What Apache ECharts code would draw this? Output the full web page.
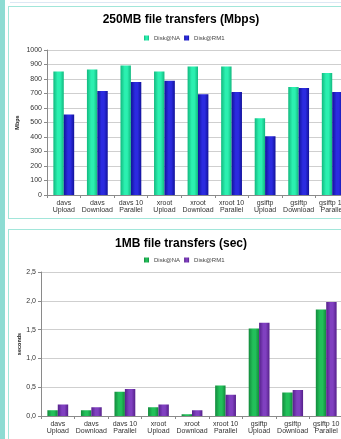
<!DOCTYPE html>
<html>
<head>
<meta charset="utf-8">
<script src="https://cdn.jsdelivr.net/npm/echarts@6/dist/echarts.min.js"></script>
<style>
  html, body { margin: 0; padding: 0; width: 341px; height: 439px; overflow: hidden; background: #fff; }
  #strip { position: absolute; left: 0; top: 0; width: 5px; height: 439px; background: #8ddcd3; }
  #topline { position: absolute; left: 10px; top: 2px; width: 340px; height: 1px; background: #dce8f4; }
  .panel { position: absolute; left: 8px; width: 400px; border: 1.5px solid #a2e6da; box-sizing: border-box; }
  #p1 { top: 6px; height: 213px; }
  #p2 { top: 229px; height: 260px; }
  #c1 { position: absolute; left: 0; top: 0; width: 370px; height: 220px; }
  #c2 { position: absolute; left: 0; top: 220px; width: 370px; height: 219px; }
</style>
</head>
<body>
<div id="strip"></div>
<div id="topline"></div>
<div class="panel" id="p1"></div>
<div class="panel" id="p2"></div>
<div id="c1"></div>
<div id="c2"></div>
<script>
// Transfer tests (shared categories)
const categories = [
  'davs\nUpload', 'davs\nDownload', 'davs 10\nParallel',
  'xroot\nUpload', 'xroot\nDownload', 'xroot 10\nParallel',
  'gsiftp\nUpload', 'gsiftp\nDownload', 'gsiftp 10\nParallel'
];
const seriesNames = ['Disk@NA', 'Disk@RM1'];

// 250MB transfers, throughput in Mbps
const mbpsNA  = [852, 866, 893, 852, 887, 886, 530, 745, 842];
const mbpsRM1 = [555, 717, 780, 788, 695, 710, 405, 738, 710];
const mbpsTicks = { min: 0, max: 1000, interval: 100 };

// 1MB transfers, duration in seconds
const secNA  = [0.10, 0.10, 0.42, 0.15, 0.03, 0.53, 1.52, 0.41, 1.85];
const secRM1 = [0.20, 0.15, 0.47, 0.20, 0.10, 0.37, 1.62, 0.45, 1.98];
const secTicks = { min: 0, max: 2.5, interval: 0.5 };

const FONT = '"Liberation Sans", Arial, sans-serif';

function shade(edge, mid) {
  return new echarts.graphic.LinearGradient(0, 0, 1, 0, [
    { offset: 0, color: edge },
    { offset: 0.4, color: mid },
    { offset: 0.65, color: mid },
    { offset: 1, color: edge }
  ]);
}

function buildOption(cfg) {
  return {
    animation: false,
    title: {
      text: cfg.title, left: 176, top: cfg.titleTop, textAlign: 'center',
      textStyle: { fontFamily: FONT, fontSize: 12, fontWeight: 'bold', color: '#000' }
    },
    legend: {
      data: seriesNames, left: 139, top: cfg.legendTop, icon: 'rect',
      itemWidth: 5, itemHeight: 5, itemGap: 4,
      textStyle: { fontFamily: FONT, fontSize: 6, color: '#444' }
    },
    grid: { left: cfg.left, top: cfg.top, width: 302, height: cfg.height, containLabel: false },
    xAxis: {
      type: 'category', data: categories,
      axisLine: { lineStyle: { color: '#8a8a8a', width: 1 } },
      axisTick: { show: true, length: 3, lineStyle: { color: '#8a8a8a' } },
      axisLabel: { fontFamily: FONT, fontSize: 7, color: '#333', lineHeight: 7.6, margin: 4, interval: 0 }
    },
    yAxis: {
      type: 'value', min: cfg.ticks.min, max: cfg.ticks.max, interval: cfg.ticks.interval,
      name: cfg.yName, nameLocation: 'middle', nameGap: cfg.nameGap, nameRotate: 90,
      nameMoveOverlap: false,
      nameTextStyle: { fontFamily: FONT, fontSize: 5.5, fontWeight: 'bold', color: '#222' },
      axisLine: { show: true, lineStyle: { color: '#8a8a8a', width: 1 } },
      axisTick: { show: true, length: 3, lineStyle: { color: '#8a8a8a' } },
      axisLabel: { fontFamily: FONT, fontSize: 7, color: '#333', margin: 5, formatter: cfg.fmt },
      splitLine: { lineStyle: { color: '#cfcfcf', width: 1 } }
    },
    series: [
      { name: seriesNames[0], type: 'bar', data: cfg.a, barGap: '0%', barCategoryGap: '38%',
        itemStyle: { color: cfg.colA } },
      { name: seriesNames[1], type: 'bar', data: cfg.b, barGap: '0%', barCategoryGap: '38%',
        itemStyle: { color: cfg.colB } }
    ]
  };
}

const chart1 = echarts.init(document.getElementById('c1'), null, { renderer: 'canvas' });
chart1.setOption(buildOption({
  title: '250MB file transfers (Mbps)', titleTop: 9, legendTop: 30,
  left: 47, top: 50, height: 145, ticks: mbpsTicks,
  yName: 'Mbps', nameGap: 27, fmt: v => String(v),
  a: mbpsNA, b: mbpsRM1,
  colA: shade('#12b97f', '#2bf0b0'),
  colB: shade('#12129a', '#2b2be0')
}));
// legend swatches keep a flat colour
chart1.setOption({ series: [
  { name: seriesNames[0], color: '#1fd99a' },
  { name: seriesNames[1], color: '#2020c8' }
] });

const chart2 = echarts.init(document.getElementById('c2'), null, { renderer: 'canvas' });
chart2.setOption(buildOption({
  title: '1MB file transfers (sec)', titleTop: 13, legendTop: 32,
  left: 41, top: 52, height: 144, ticks: secTicks,
  yName: 'seconds', nameGap: 19, fmt: v => v.toFixed(1).replace('.', ','),
  a: secNA, b: secRM1,
  colA: shade('#138a3c', '#22c05a'),
  colB: shade('#55208a', '#8040c0')
}));
chart2.setOption({ series: [
  { name: seriesNames[0], color: '#20b050' },
  { name: seriesNames[1], color: '#7030a0' }
] });
</script>
</body>
</html>
